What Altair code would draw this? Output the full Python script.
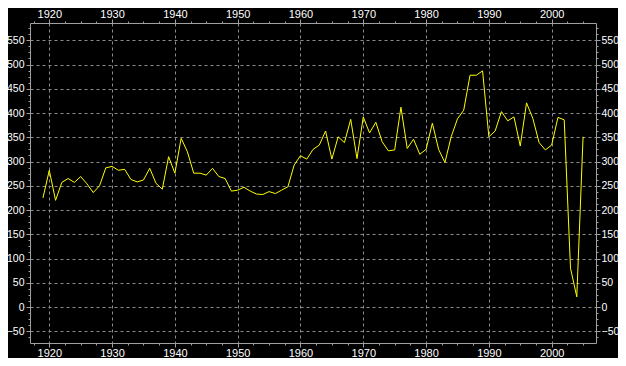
import altair as alt
import pandas as pd

# ---- data ----
years = list(range(1919, 2006))
values = [
    225, 282, 220, 257, 265, 257, 269, 254, 236, 250,   # 1919-1928
    287, 290, 282, 284, 263, 258, 262, 286, 255, 243,   # 1929-1938
    310, 276, 348, 320, 276, 276, 272, 286, 269, 265,   # 1939-1948
    239, 241, 247, 239, 233, 232, 238, 234, 241, 248,   # 1949-1958
    293, 312, 305, 325, 334, 363, 305, 351, 339, 387,   # 1959-1968
    306, 392, 359, 381, 341, 322, 324, 412, 327, 346,   # 1969-1978
    315, 325, 379, 325, 298, 351, 388, 406, 478, 478,   # 1979-1988
    487, 351, 363, 403, 384, 392, 332, 421, 389, 339,   # 1989-1998
    324, 334, 391, 386, 80, 21, 351,                    # 1999-2005
]

x_tick_values = [1917.5 + 2.5 * i for i in range(36)]   # major every 10, minor every 2.5
y_tick_values = [-62.5 + 12.5 * i for i in range(52)]   # major every 50, minor every 12.5

df = pd.DataFrame({"year": years, "value": values})

X_DOMAIN = [1916.93, 2007.06]
Y_DOMAIN = [-74.2, 585.7]

FRAME = "#a0a0a0"
GRID = "#8c8c8c"
FONT = "Liberation Sans"

x_major = "datum.value % 10 === 0"
y_major = "datum.value % 50 === 0"


def axis(orient, vals, major, grid, pad, size):
    return alt.Axis(
        orient=orient,
        values=vals,
        format="d",
        title=None,
        labelExpr=f"{major} ? datum.label : ''",
        labelOverlap=False,
        labelFlush=False,
        labelBound=False,
        labelColor="white",
        labelFont=FONT,
        labelFontSize=size,
        labelPadding=pad,
        domainColor=FRAME,
        domainWidth=1,
        tickColor=FRAME,
        tickWidth=1,
        tickSize={"condition": {"test": major, "value": 4}, "value": 2},
        grid=grid,
        gridColor=GRID,
        gridDash=[3, 3],
        gridWidth=1,
        gridOpacity={"condition": {"test": major, "value": 1}, "value": 0},
    )


xs = alt.Scale(domain=X_DOMAIN, nice=False, zero=False)
ys = alt.Scale(domain=Y_DOMAIN, nice=False, zero=False)

main = alt.Chart(df).mark_line(color="#ffff00", strokeWidth=1).encode(
    x=alt.X("year:Q", scale=xs, axis=axis("bottom", x_tick_values, x_major, True, 0.5, 11)),
    y=alt.Y("value:Q", scale=ys, axis=axis("left", y_tick_values, y_major, True, 2, 10.5)),
)

mirror = alt.Chart(df).mark_line(color="#ffff00", strokeWidth=1, opacity=0).encode(
    x=alt.X("year:Q", scale=xs, axis=axis("top", x_tick_values, x_major, False, 0, 11)),
    y=alt.Y("value:Q", scale=ys, axis=axis("right", y_tick_values, y_major, False, 1, 10.5)),
)

chart = (
    alt.layer(main, mirror)
    .resolve_axis(x="independent", y="independent")
    .properties(
        width=566,
        height=320,
        autosize=alt.AutoSizeParams(type="none"),
        padding={"left": 22, "top": 15, "right": 22, "bottom": 15},
    )
    .configure(background="black")
    .configure_view(stroke=None)
)

chart.save("out.html", embed_options={"renderer": "svg", "actions": False})
